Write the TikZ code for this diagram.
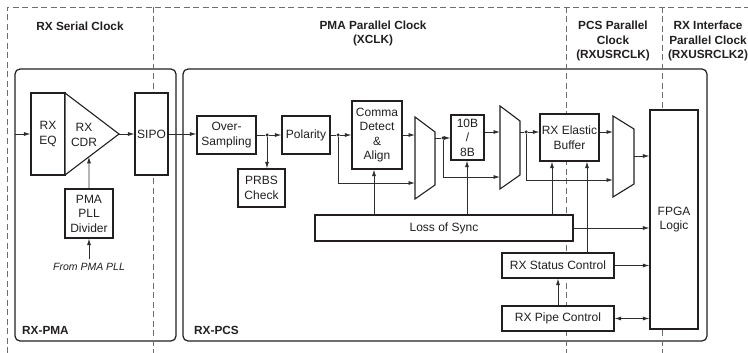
\documentclass[tikz,border=0pt]{standalone}
\usepackage{fontspec}
\setmainfont{Liberation Sans}
\usetikzlibrary{arrows.meta,calc}
\definecolor{linec}{HTML}{231F20}
\definecolor{wirec}{HTML}{2E2E30}
\definecolor{dashc}{HTML}{6D6E71}
\begin{document}
\begin{tikzpicture}[x=1pt,y=-1pt,
  every node/.style={font=\fontsize{12}{14.5}\selectfont, inner sep=0pt, align=center, text=linec},
  hdr/.style={font=\fontsize{11.8}{14.5}\selectfont\bfseries},
  blk/.style={draw=linec, fill=white, line width=1.1pt},
  frame/.style={draw=linec, line width=1.2pt, rounded corners=5pt},
  dashln/.style={draw=dashc, line width=0.9pt, dash pattern=on 6pt off 3.5pt},
  wire/.style={draw=wirec, line width=0.85pt},
  arr/.style={wire, -{Latex[length=6.5pt,width=4pt]}},
  darr/.style={wire, {Latex[length=6.5pt,width=4pt]}-{Latex[length=6.5pt,width=4pt]}},
  dot/.style={circle, fill=wirec, minimum size=3.5pt, inner sep=0pt}
]
\useasboundingbox (0,0) rectangle (748,353);
\fill[white] (0,0) rectangle (748,353);

% frames
\draw[frame] (15,69) rectangle (176,341);
\draw[frame] (183,69) rectangle (707,341);

% clock domain boundaries
\draw[dashln] (7,353) -- (7,7) -- (748,7);
\draw[dashln] (153,7) -- (153,353);
\draw[dashln] (566,7) -- (566,353);
\draw[dashln] (662,7) -- (662,353);

% headers
\node[hdr] (h1) at (80,26) {RX Serial Clock};
\node[hdr] (h2) at (373,33.5) {PMA Parallel Clock\\(XCLK)};
\node[hdr] (h3) at (613,41) {PCS Parallel\\Clock\\(RXUSRCLK)};
\node[hdr] (h4) at (708,41) {RX Interface\\Parallel Clock\\(RXUSRCLK2)};

\node[hdr, anchor=west] (lpma) at (22,330) {RX-PMA};
\node[hdr, anchor=west] (lpcs) at (194,330) {RX-PCS};

% PMA blocks
\node[blk, minimum width=34pt, minimum height=82pt] (eq) at (48,134) {RX\\EQ};
\draw[blk] (65,93) -- (119,134) -- (65,175) -- cycle;
\coordinate (cdrout) at (119,134);
\coordinate (cdrin) at ($(65,175)!0.444!(119,134)$);
\node (cdr) at (84,135) {RX\\CDR};
\node[blk, minimum width=33pt, minimum height=82pt] (sipo) at (151.5,134) {SIPO};
\node[blk, minimum width=48pt, minimum height=49pt] (pll) at (89,213.5) {PMA\\PLL\\Divider};
\node[font=\fontsize{10.5}{12}\selectfont\itshape] (from) at (89,267) {From PMA PLL};
\coordinate (inp) at (15,134);

% PCS blocks
\node[blk, minimum width=59pt, minimum height=38pt] (os) at (226.5,135) {Over-\\Sampling};
\node[blk, minimum width=48pt, minimum height=38pt] (pol) at (306,135) {Polarity};
\node[blk, minimum width=47pt, minimum height=38pt] (prbs) at (261.5,188) {PRBS\\Check};
\node[blk, minimum width=50pt, minimum height=68pt] (comma) at (377,135) {Comma\\Detect\\\&\\Align};
\node[blk, minimum width=33pt, minimum height=45pt] (dec) at (467.5,137.5) {10B\\/\\8B};
\node[blk, minimum width=59pt, minimum height=47pt] (buf) at (569.5,137.5) {RX Elastic\\Buffer};
\node[blk, minimum width=48pt, minimum height=219pt] (fpga) at (674,219.5) {FPGA\\Logic};
\node[blk, minimum width=258pt, minimum height=26pt] (los) at (444,228) {Loss of Sync};
\node[blk, minimum width=112pt, minimum height=25pt] (stat) at (558,265.5) {RX Status Control};
\node[blk, minimum width=112pt, minimum height=25pt] (pipe) at (558,318.5) {RX Pipe Control};

% muxes
\draw[blk] (415,117) -- (435,132) -- (435,185) -- (415,199) -- cycle;
\draw[blk] (500,106) -- (520,121) -- (520,175) -- (500,189) -- cycle;
\draw[blk] (613,116) -- (634,129) -- (634,184) -- (613,197) -- cycle;
\coordinate (m1a) at (415,135); \coordinate (m1b) at (415,183); \coordinate (m1o) at (435,138);
\coordinate (m2a) at (500,132); \coordinate (m2b) at (500,177); \coordinate (m2o) at (520,132);
\coordinate (m3a) at (613,132); \coordinate (m3b) at (613,180); \coordinate (m3o) at (634,156);

% junctions
\node[dot] (j1) at (267,135) {};
\node[dot] (j2) at (338,135) {};
\node[dot] (j3) at (443,138) {};
\node[dot] (j4) at (526,132) {};

% PMA wiring
\draw[arr] (inp) -- (eq.west);
\draw[arr] (cdrout) -- (sipo.west);
\draw[arr] (pll.north) -- (cdrin);
\draw[arr] (from.north) ++(0,-4) -- (pll.south);
\draw[arr] (sipo.east) -- (os.west |- sipo.east);

% PCS data path
\draw[wire] (os.east) -- (j1);
\draw[arr] (j1) -- (pol.west);
\draw[arr] (j1) -- (j1 |- prbs.north);
\draw[wire] (pol.east) -- (j2);
\draw[arr] (j2) -- (comma.west);
\draw[arr] (j2) |- (m1b);
\draw[arr] (comma.east) -- (m1a);
\draw[wire] (m1o) -- (j3);
\draw[arr] (j3) -- (dec.west |- j3);
\draw[arr] (j3) |- (m2b);
\draw[arr] (dec.east |- m2a) -- (m2a);
\draw[wire] (m2o) -- (j4);
\draw[arr] (j4) -- (buf.west |- j4);
\draw[arr] (j4) |- (m3b);
\draw[arr] (buf.east |- m3a) -- (m3a);
\draw[arr] (m3o) -- (fpga.west |- m3o);

% control
\draw[arr] (los.north -| comma.south) ++(-3,0) -- ($(comma.south)+(-3,0)$);
\draw[arr] (467,215) -- (dec.south -| 467,0);
\draw[arr] (552,215) -- (buf.south -| 552,0);
\draw[arr] (587,253) -- (buf.south -| 587,0);
\draw[arr] (los.east) -- (fpga.west |- los.east);
\draw[arr] (stat.east) -- (fpga.west |- stat.east);
\draw[darr] (pipe.east) -- (fpga.west |- pipe.east);
\draw[arr] (pipe.north) -- (stat.south);
\end{tikzpicture}
\end{document}
